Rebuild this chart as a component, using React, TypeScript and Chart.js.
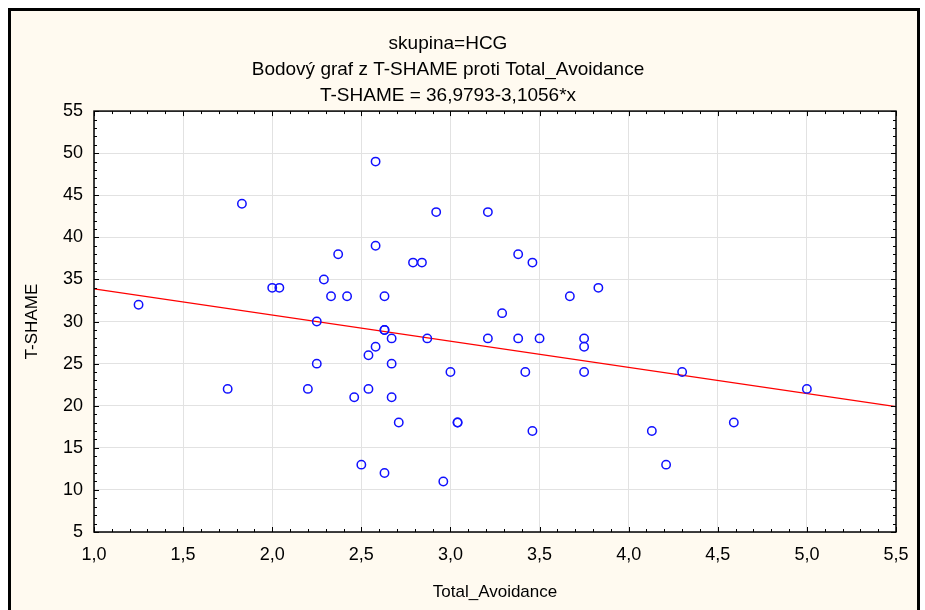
import React, { useEffect, useRef } from "react";
import { Chart, registerables } from "chart.js";

Chart.register(...registerables);

const titleLines = [
  "skupina=HCG",
  "Bodový graf z T-SHAME proti Total_Avoidance",
  "T-SHAME = 36,9793-3,1056*x",
];
const xAxisTitle = "Total_Avoidance";
const yAxisTitle = "T-SHAME";

const intercept = 36.9793;
const slope = -3.1056;

const xMin = 1.0;
const xMax = 5.5;
const xStep = 0.5;
const yMin = 5;
const yMax = 55;
const yStep = 5;

const totalAvoidance = [
  1.25, 1.75, 1.83, 2.0, 2.04, 2.2, 2.25, 2.25, 2.29, 2.33, 2.37, 2.42, 2.46, 2.5,
  2.54, 2.54, 2.58, 2.58, 2.58, 2.63, 2.63, 2.63, 2.63, 2.67, 2.67, 2.67, 2.71,
  2.79, 2.84, 2.87, 2.92, 2.96, 3.0, 3.04, 3.04, 3.21, 3.21, 3.29, 3.38, 3.38,
  3.42, 3.46, 3.46, 3.5, 3.67, 3.75, 3.75, 3.75, 3.83, 4.13, 4.21, 4.3, 4.59, 5.0,
];
const tShame = [
  32, 22, 44, 34, 34, 22, 30, 25, 35, 33, 38, 33, 21, 13,
  26, 22, 49, 39, 27, 33, 29, 29, 12, 28, 25, 21, 18,
  37, 37, 28, 43, 11, 24, 18, 18, 43, 28, 31, 38, 28,
  24, 37, 17, 28, 33, 28, 27, 24, 34, 17, 13, 24, 18, 22,
];

const fmt = (v: number) => v.toFixed(1).replace(".", ",");

const framePlugin = {
  id: "framePlugin",
  beforeDraw(chart: any) {
    const { ctx, width, height } = chart;
    ctx.save();
    ctx.fillStyle = "#ffffff";
    ctx.fillRect(0, 0, width, height);
    ctx.fillStyle = "#fffaf0";
    ctx.fillRect(10, 9, 908, height - 9);
    ctx.fillStyle = "#000000";
    ctx.fillRect(8, 8, 3, height - 8);
    ctx.fillRect(8, 8, 912, 3);
    ctx.fillRect(917, 8, 3, height - 8);
    const a = chart.chartArea;
    ctx.fillStyle = "#ffffff";
    ctx.fillRect(a.left, a.top, a.right - a.left, a.bottom - a.top);
    ctx.restore();
  },
  afterDraw(chart: any) {
    const { ctx } = chart;
    const a = chart.chartArea;
    const xs = chart.scales.x;
    const ys = chart.scales.y;
    ctx.save();
    ctx.strokeStyle = "#000000";
    ctx.lineWidth = 1.5;
    ctx.strokeRect(a.left, a.top, a.right - a.left, a.bottom - a.top);
    ctx.lineWidth = 1;
    ctx.beginPath();
    for (let i = 0; i <= Math.round((xMax - xMin) / 0.1); i++) {
      const v = xMin + i * 0.1;
      const major = i % 5 === 0;
      const len = major ? 5 : 3;
      const px = Math.round(xs.getPixelForValue(v)) + 0.5;
      ctx.moveTo(px, a.top);
      ctx.lineTo(px, a.top + len);
      ctx.moveTo(px, a.bottom);
      ctx.lineTo(px, a.bottom - len);
    }
    for (let i = 0; i <= yMax - yMin; i++) {
      const v = yMin + i;
      const major = i % 5 === 0;
      const len = major ? 5 : 3;
      const py = Math.round(ys.getPixelForValue(v)) + 0.5;
      ctx.moveTo(a.left, py);
      ctx.lineTo(a.left + len, py);
      ctx.moveTo(a.right, py);
      ctx.lineTo(a.right - len, py);
    }
    ctx.stroke();
    ctx.restore();
  },
};

export default function App() {
  const ref = useRef<HTMLCanvasElement | null>(null);
  useEffect(() => {
    if (!ref.current) return;
    const points = totalAvoidance.map((x, i) => ({ x, y: tShame[i] }));
    const fit = [
      { x: xMin, y: intercept + slope * xMin },
      { x: xMax, y: intercept + slope * xMax },
    ];
    const font = "'Liberation Sans', Arial, sans-serif";
    const chart = new Chart(ref.current, {
      type: "scatter",
      data: {
        datasets: [
          {
            type: "scatter",
            data: points,
            borderColor: "#1010ff",
            backgroundColor: "rgba(0,0,0,0)",
            borderWidth: 1.5,
            pointRadius: 4.2,
            pointHoverRadius: 4.2,
            order: 1,
          },
          {
            type: "line",
            data: fit,
            borderColor: "#ff0000",
            borderWidth: 1.3,
            pointRadius: 0,
            fill: false,
            order: 2,
          } as any,
        ],
      },
      options: {
        animation: false,
        responsive: false,
        events: [],
        layout: { padding: { left: 0, right: 29, top: 0, bottom: 0 } },
        plugins: {
          legend: { display: false },
          tooltip: { enabled: false },
          title: {
            display: true,
            text: titleLines,
            color: "#000000",
            font: { family: font, size: 19, weight: "normal", lineHeight: 1.37 },
            padding: { top: 31, bottom: 2 },
          },
        },
        scales: {
          x: {
            type: "linear",
            min: xMin,
            max: xMax,
            afterFit: (s: any) => {
              s.height = 78;
            },
            ticks: {
              stepSize: xStep,
              color: "#000000",
              font: { family: font, size: 18 },
              padding: 12,
              callback: (v: any) => fmt(Number(v)),
              maxRotation: 0,
            },
            grid: { color: "#e2e2e2", lineWidth: 1, drawTicks: false },
            border: { display: false },
            title: {
              display: true,
              text: xAxisTitle,
              color: "#000000",
              font: { family: font, size: 17 },
              padding: { top: 0, bottom: 7 },
            },
          },
          y: {
            type: "linear",
            min: yMin,
            max: yMax,
            afterFit: (s: any) => {
              s.width = 94;
            },
            ticks: {
              stepSize: yStep,
              color: "#000000",
              font: { family: font, size: 18 },
              padding: 11,
            },
            grid: { color: "#e2e2e2", lineWidth: 1, drawTicks: false },
            border: { display: false },
            title: {
              display: true,
              text: yAxisTitle,
              color: "#000000",
              font: { family: font, size: 17 },
              padding: { top: 22, bottom: 0 },
            },
          },
        },
      },
      plugins: [framePlugin],
    });
    return () => chart.destroy();
  }, []);
  return (
    <div style={{ position: "fixed", left: 0, top: 0, width: 925, height: 610 }}>
      <canvas ref={ref} width={925} height={610} style={{ width: 925, height: 610, display: "block" }} />
    </div>
  );
}
